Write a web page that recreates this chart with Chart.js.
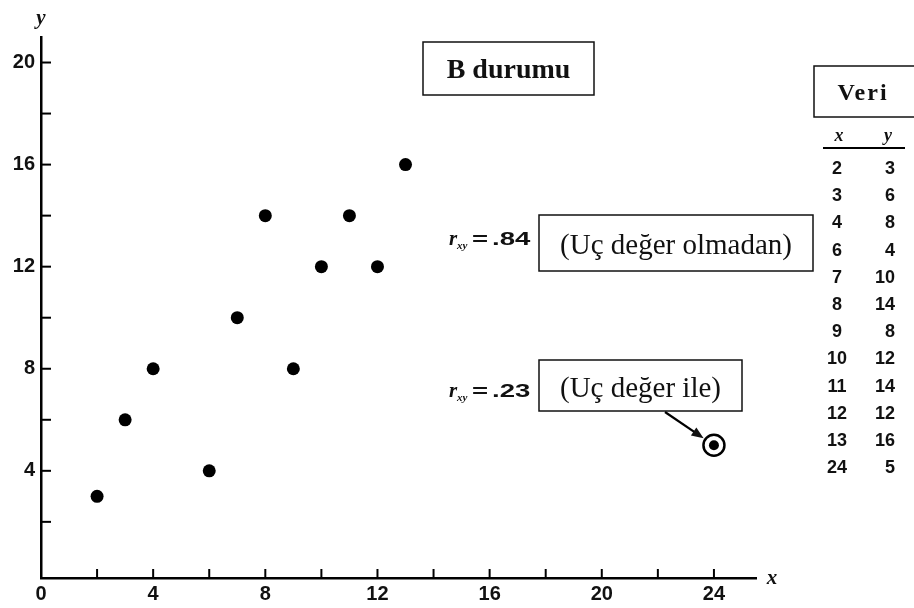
<!DOCTYPE html>
<html>
<head>
<meta charset="utf-8">
<script src="https://cdn.jsdelivr.net/npm/chart.js@4.4.1/dist/chart.umd.min.js"></script>
<style>
html,body{margin:0;padding:0;background:#fff;}
#wrap{position:relative;width:914px;height:608px;}
</style>
</head>
<body>
<div id="wrap"><canvas id="c" width="914" height="608"></canvas></div>
<script>
// ---- data ----
const xVals = [2, 3, 4, 6, 7, 8, 9, 10, 11, 12, 13, 24];
const yVals = [3, 6, 8, 4, 10, 14, 8, 12, 14, 12, 16, 5];
const outlierIndex = 11;
const xTickLabels = [0, 4, 8, 12, 16, 20, 24];
const yTickLabels = [4, 8, 12, 16, 20];
const minorStep = 2;
const titleText = "B durumu";
const tableTitle = "Veri";
const rNoOutlier = ".84";
const rWithOutlier = ".23";
const noOutlierText = "(Uç değer olmadan)";
const withOutlierText = "(Uç değer ile)";

const points = xVals.map((x, i) => ({x: x, y: yVals[i]}));
const outlierPoint = [{x: xVals[outlierIndex], y: yVals[outlierIndex]}];

const SERIF = '"Liberation Serif", "Times New Roman", serif';
const SANS = '"Liberation Sans", Arial, sans-serif';

function box(ctx, x, y, w, h) {
  ctx.save();
  ctx.strokeStyle = '#111';
  ctx.lineWidth = 1.5;
  ctx.strokeRect(x, y, w, h);
  ctx.restore();
}

function rLabel(ctx, x, baseline, val) {
  ctx.save();
  ctx.fillStyle = '#111';
  ctx.textBaseline = 'alphabetic';
  ctx.textAlign = 'left';
  ctx.font = 'italic bold 21px ' + SERIF;
  ctx.fillText('r', x, baseline);
  ctx.font = 'italic bold 11px ' + SERIF;
  ctx.fillText('xy', x + 8, baseline + 4);
  ctx.translate(x + 23, baseline);
  ctx.scale(1.45, 1);
  ctx.font = 'bold 19px ' + SANS;
  ctx.fillText('=', 0, 0);
  ctx.fillText(val, 13.8, 0);
  ctx.restore();
}

const decor = {
  id: 'decor',
  afterDatasetsDraw(chart) {
    const ctx = chart.ctx;
    const xs = chart.scales.x, ys = chart.scales.y;
    const area = chart.chartArea;
    ctx.save();
    ctx.strokeStyle = '#000';
    ctx.lineWidth = 2;
    // inward ticks
    for (let v = minorStep; v <= xs.max; v += minorStep) {
      const px = xs.getPixelForValue(v);
      ctx.beginPath(); ctx.moveTo(px, area.bottom); ctx.lineTo(px, area.bottom - 9); ctx.stroke();
    }
    for (let v = minorStep; v <= ys.max; v += minorStep) {
      const py = ys.getPixelForValue(v);
      ctx.beginPath(); ctx.moveTo(area.left, py); ctx.lineTo(area.left + 10, py); ctx.stroke();
    }
    // axis titles
    ctx.fillStyle = '#111';
    ctx.font = 'italic bold 21px ' + SERIF;
    ctx.textAlign = 'center';
    ctx.textBaseline = 'middle';
    ctx.fillText('y', area.left, 19);
    ctx.fillText('x', area.right + 16, area.bottom + 1);

    // title box
    box(ctx, 423, 42, 171, 53);
    ctx.font = 'bold 28px ' + SERIF;
    ctx.textBaseline = 'alphabetic';
    ctx.fillText(titleText, 508.5, 78);

    // data table
    box(ctx, 814, 66, 110, 51);
    ctx.font = 'bold 24px ' + SERIF;
    ctx.letterSpacing = '2px';
    ctx.fillText(tableTitle, 863, 100);
    ctx.letterSpacing = '0px';
    ctx.font = 'italic bold 18px ' + SERIF;
    ctx.fillText('x', 839, 141);
    ctx.fillText('y', 888, 141);
    ctx.beginPath(); ctx.moveTo(823, 148); ctx.lineTo(905, 148); ctx.stroke();
    ctx.font = 'bold 18px ' + SANS;
    ctx.textBaseline = 'middle';
    for (let i = 0; i < xVals.length; i++) {
      const ry = 169 + i * 27.2;
      ctx.textAlign = 'center';
      ctx.fillText(String(xVals[i]), 837, ry);
      ctx.textAlign = 'right';
      ctx.fillText(String(yVals[i]), 895, ry);
    }

    // r labels and boxes
    rLabel(ctx, 449, 245, rNoOutlier);
    box(ctx, 539, 215, 274, 56);
    ctx.textAlign = 'center';
    ctx.textBaseline = 'alphabetic';
    ctx.font = '29px ' + SERIF;
    ctx.fillText(noOutlierText, 676, 254);

    rLabel(ctx, 449, 397, rWithOutlier);
    box(ctx, 539, 360, 203, 51);
    ctx.fillText(withOutlierText, 640.5, 397);

    // arrow to outlier
    const ox = xs.getPixelForValue(outlierPoint[0].x);
    const oy = ys.getPixelForValue(outlierPoint[0].y);
    const sx = 665, sy = 412;
    const ang = Math.atan2(oy - sy, ox - sx);
    const ex = ox - 12.5 * Math.cos(ang), ey = oy - 12.5 * Math.sin(ang);
    ctx.lineWidth = 2.2;
    ctx.beginPath(); ctx.moveTo(sx, sy); ctx.lineTo(ex - 6 * Math.cos(ang), ey - 6 * Math.sin(ang)); ctx.stroke();
    ctx.beginPath();
    ctx.moveTo(ex, ey);
    ctx.lineTo(ex - 13 * Math.cos(ang - 0.38), ey - 13 * Math.sin(ang - 0.38));
    ctx.lineTo(ex - 13 * Math.cos(ang + 0.38), ey - 13 * Math.sin(ang + 0.38));
    ctx.closePath();
    ctx.fill();
    ctx.restore();
  }
};

new Chart(document.getElementById('c'), {
  type: 'scatter',
  data: {
    datasets: [
      {
        label: 'data',
        data: points,
        backgroundColor: '#000',
        borderColor: '#000',
        borderWidth: 0,
        pointRadius: points.map((p, i) => i === outlierIndex ? 5 : 6.5),
        pointHoverRadius: points.map((p, i) => i === outlierIndex ? 5 : 6.5)
      },
      {
        label: 'outlier ring',
        data: outlierPoint,
        backgroundColor: '#fff',
        borderColor: '#000',
        borderWidth: 2.5,
        pointRadius: 10.5,
        pointHoverRadius: 10.5
      }
    ]
  },
  options: {
    responsive: false,
    animation: false,
    events: [],
    layout: {padding: {top: 37, right: 158, left: 0, bottom: 0}},
    plugins: {legend: {display: false}, tooltip: {enabled: false}},
    scales: {
      x: {
        type: 'linear',
        position: 'bottom',
        min: 0,
        max: 25.5,
        afterBuildTicks: s => { s.ticks = xTickLabels.map(v => ({value: v})); },
        afterFit: s => { s.height = 30; },
        grid: {display: false, drawTicks: false},
        border: {display: true, color: '#000', width: 2.5},
        ticks: {padding: 4, color: '#111', font: {family: SANS, size: 20, weight: 'bold'}, maxRotation: 0, autoSkip: false}
      },
      y: {
        type: 'linear',
        position: 'left',
        min: -0.2,
        max: 21,
        afterBuildTicks: s => { s.ticks = yTickLabels.map(v => ({value: v})); },
        afterFit: s => { s.width = 41; },
        grid: {display: false, drawTicks: false},
        border: {display: true, color: '#000', width: 2.5},
        ticks: {padding: 6, color: '#111', font: {family: SANS, size: 20, weight: 'bold'}, autoSkip: false}
      }
    }
  },
  plugins: [decor]
});
</script>
</body>
</html>
